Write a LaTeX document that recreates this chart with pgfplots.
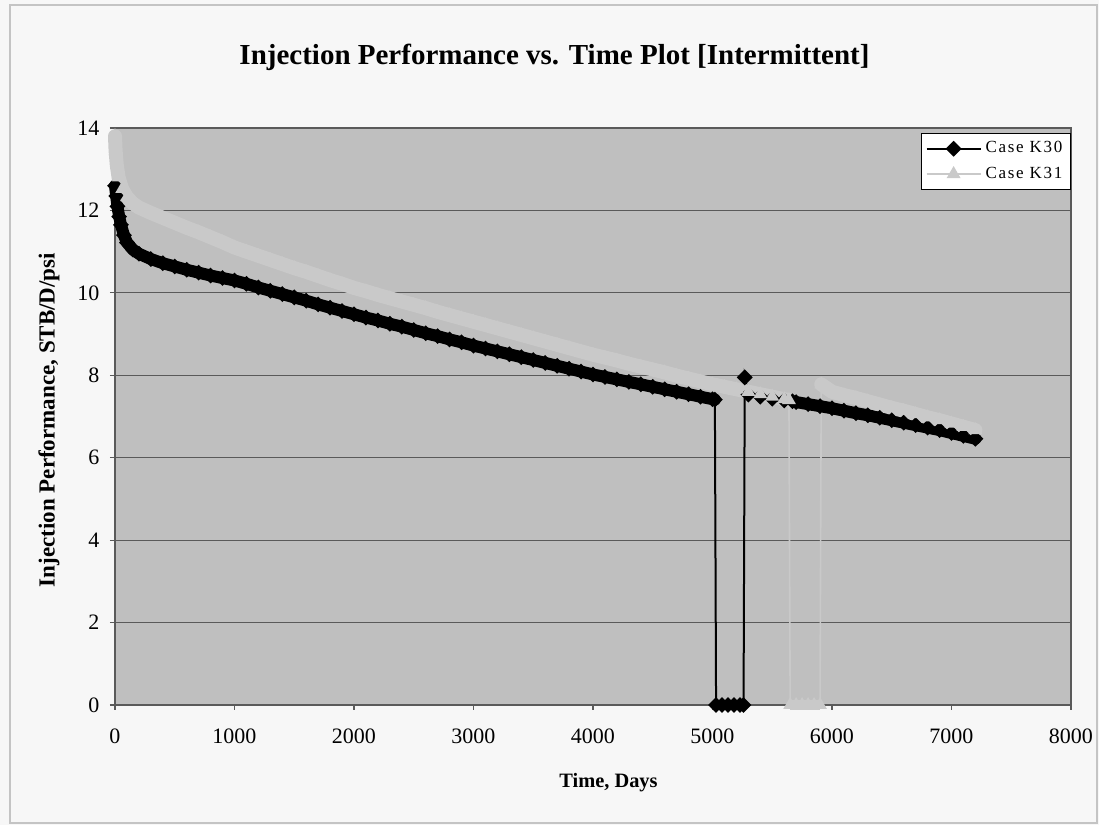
\documentclass[border=0pt]{standalone}
\usepackage{fontspec}
\setmainfont{Liberation Serif}
\usepackage{pgfplots}
\usepackage{pgfplotstable}
\pgfplotsset{compat=1.18}
\definecolor{plotbg}{HTML}{BFBFBF}
\definecolor{kgray}{HTML}{C9C9C9}
\definecolor{gridc}{HTML}{5A5A5A}
\definecolor{framec}{HTML}{C4C4C4}

\pgfplotstableread{
t v
0 12.60
10 12.35
20 12.10
35 11.85
50 11.65
75 11.40
100 11.22
150 11.05
200 10.95
300 10.82
400 10.72
500 10.64
600 10.56
700 10.49
800 10.42
900 10.36
1000 10.30
1100 10.22
1200 10.13
1300 10.05
1400 9.97
1500 9.89
1600 9.81
1700 9.72
1800 9.64
1900 9.56
2000 9.48
2100 9.40
2200 9.33
2300 9.25
2400 9.18
2500 9.10
2600 9.02
2700 8.95
2800 8.87
2900 8.80
3000 8.72
3100 8.65
3200 8.58
3300 8.51
3400 8.44
3500 8.37
3600 8.30
3700 8.23
3800 8.16
3900 8.09
4000 8.02
4100 7.96
4200 7.90
4300 7.84
4400 7.78
4500 7.72
4600 7.66
4700 7.60
4800 7.54
4900 7.48
5000 7.42
5020 7.41
5030 0
5080 0
5130 0
5180 0
5230 0
5260 0
5270 7.95
5300 7.53
5400 7.48
5500 7.43
5600 7.39
5670 7.37
5700 7.35
5800 7.30
5900 7.25
6000 7.20
6100 7.14
6200 7.08
6300 7.03
6400 6.97
6500 6.91
6600 6.85
6700 6.79
6800 6.73
6900 6.67
7000 6.60
7100 6.53
7200 6.46
}\kthirty

\pgfplotstableread{
t v
0 13.80
5 13.45
15 13.10
30 12.80
60 12.52
100 12.32
150 12.17
200 12.07
300 11.94
400 11.82
500 11.70
600 11.58
700 11.47
800 11.35
900 11.23
1000 11.10
1100 11.00
1200 10.90
1300 10.80
1400 10.70
1500 10.60
1600 10.51
1700 10.41
1800 10.31
1900 10.22
2000 10.12
2100 10.04
2200 9.95
2300 9.87
2400 9.79
2500 9.71
2600 9.63
2700 9.54
2800 9.46
2900 9.38
3000 9.30
3100 9.22
3200 9.14
3300 9.06
3400 8.98
3500 8.90
3600 8.82
3700 8.74
3800 8.66
3900 8.58
4000 8.50
4100 8.43
4200 8.36
4300 8.28
4400 8.21
4500 8.14
4600 8.07
4700 7.99
4800 7.92
4900 7.85
5000 7.78
5100 7.72
5200 7.66
5300 7.60
5400 7.54
5500 7.48
5600 7.42
5640 7.40
5650 0
5700 0
5750 0
5800 0
5850 0
5900 0
5910 7.78
6000 7.60
6100 7.52
6200 7.45
6300 7.37
6400 7.29
6500 7.21
6600 7.14
6700 7.06
6800 6.98
6900 6.91
7000 6.83
7100 6.75
7200 6.67
}\kthirtyone

\begin{document}
\begin{tikzpicture}
\fill[white!97!black] (-57.5pt,-60pt) rectangle (492pt,352.5pt);
\draw[framec, line width=0.8pt] (-52.5pt,-59pt) rectangle (491pt,350pt);
\begin{axis}[
  scale only axis,
  width=478pt, height=288.5pt,
  xmin=0, xmax=8000, ymin=0, ymax=14,
  xtick distance=1000, ytick distance=2,
  axis background/.style={fill=plotbg},
  axis line style={draw=gridc, line width=0.7pt},
  ymajorgrids, major grid style={draw=gridc, line width=0.6pt},
  tick align=outside, major tick length=2.5pt,
  xtick pos=bottom, ytick pos=left,
  tick style={draw=gridc, line width=0.6pt},
  tick label style={font=\fontsize{11}{13}\selectfont},
  yticklabel style={xshift=-1.8pt},
  xticklabel style={yshift=-6pt},
  /pgf/number format/assume math mode=true,
  /pgf/number format/set thousands separator={},
  clip=false,
  unbounded coords=jump,
  legend cell align=left,
  legend style={at={(1,1)}, anchor=north east, yshift=-2.5pt,
    draw=black, line width=0.6pt, fill=white,
    font=\fontsize{8.5}{10}\selectfont\addfontfeature{LetterSpace=10},
    row sep=1.5pt, inner xsep=2pt, inner ysep=2pt},
  legend image code/.code={\draw[mark repeat=2,mark phase=2,#1] plot coordinates {(0pt,0pt) (13.5pt,0pt) (27pt,0pt)};},
]
% K30 thick bands
\addplot[black, line width=6pt, line join=round, line cap=round, forget plot, restrict x to domain=0:5025] table[x=t,y=v]{\kthirty};
\addplot[black, line width=5pt, line join=round, forget plot, restrict x to domain=5025:5265] table[x=t,y=v]{\kthirty};
\addplot[black, line width=6pt, line join=round, line cap=round, forget plot, restrict x to domain=5660:7300] table[x=t,y=v]{\kthirty};
% K30 line with markers
\addplot[black, line width=1pt, mark=square*, mark size=2.3pt, mark options={rotate=45, solid}] table[x=t,y=v]{\kthirty};
\addlegendentry{Case K30}
% K31 thick bands
\addplot[kgray, line width=7pt, line join=round, line cap=round, forget plot, restrict x to domain=0:5645] table[x=t,y=v]{\kthirtyone};
\addplot[kgray, line width=5pt, line join=round, forget plot, restrict x to domain=5645:5905] table[x=t,y=v]{\kthirtyone};
\addplot[kgray, line width=7pt, line join=round, line cap=round, forget plot, restrict x to domain=5905:7300] table[x=t,y=v]{\kthirtyone};
% K31 line with markers
\addplot[kgray, line width=0.8pt, mark=triangle*, mark size=3.2pt, mark options={solid, fill=kgray}] table[x=t,y=v]{\kthirtyone};
\addlegendentry{Case K31}
\end{axis}
\node[font=\bfseries\fontsize{14.5}{16}\selectfont] at (219.75pt,324pt) {Injection Performance vs. Time Plot [Intermittent]};
\node[font=\bfseries\fontsize{11.5}{13}\selectfont, rotate=90] at (-33pt,142.5pt) {Injection Performance, STB/D/psi};
\node[font=\bfseries\fontsize{10.2}{12}\selectfont] at (246.75pt,-39pt) {Time, Days};
\pgfresetboundingbox
\path[use as bounding box] (-57.5pt,-60pt) rectangle (492pt,352.5pt);
\end{tikzpicture}
\end{document}
